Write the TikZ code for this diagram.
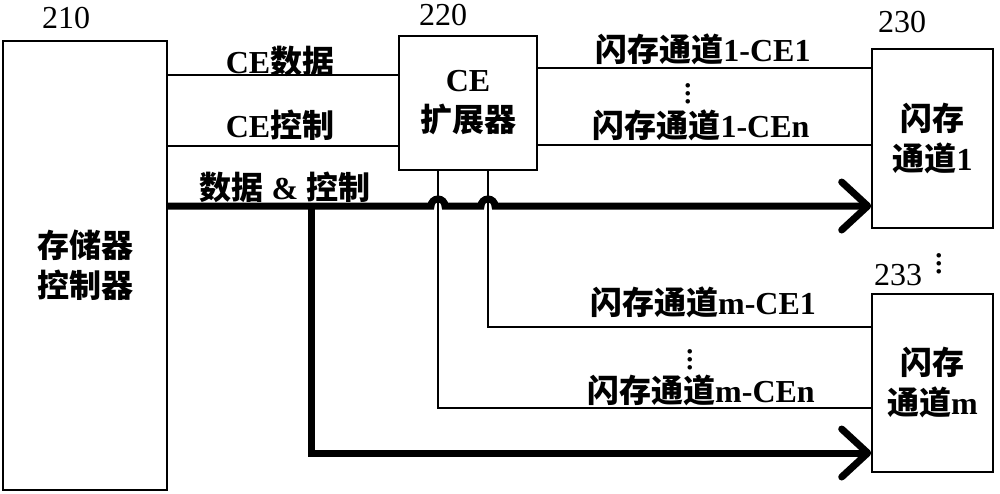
\documentclass[tikz,border=0pt]{standalone}
\usepackage{fontspec}
\setmainfont{Liberation Serif}
\newfontfamily\cjk{Noto Sans CJK SC}
\usetikzlibrary{arrows.meta,calc}
\begin{document}
\begin{tikzpicture}[x=0.5pt,y=-0.5pt,
    box/.style={draw=black,line width=0.8pt,inner sep=0pt,align=center,
        font=\fontsize{16}{20}\selectfont\bfseries},
    wire/.style={draw=black,line width=0.75pt},
    bus/.style={draw=black,line width=3.5pt},
    head/.style={-{Straight Barb[length=13pt,width=24pt,round]}},
    lab/.style={inner sep=0pt,font=\fontsize{16}{20}\selectfont\bfseries},
    num/.style={inner sep=0pt,font=\fontsize{16}{20}\selectfont},
    dots/.style={inner sep=0pt,font=\fontsize{19}{20}\selectfont}]
    \useasboundingbox (0,0) rectangle (1000,493);
    \node[box,minimum width=82pt,minimum height=224.5pt] (mc) at (85,265.5) {\cjk 存储器\\\cjk 控制器};
    \node[box,minimum width=69pt,minimum height=67pt] (ce) at (468,103) {CE\\\cjk 扩展器};
    \node[box,minimum width=60.5pt,minimum height=89.5pt] (fc1) at (932.5,138.5) {\cjk 闪存\\{\cjk 通道}1};
    \node[box,minimum width=60.5pt,minimum height=89pt] (fcm) at (932.5,383) {\cjk 闪存\\{\cjk 通道}m};
    \node[num] (n210) at (66,18) {210};
    \node[num] (n220) at (443,15) {220};
    \node[num] (n230) at (902,22) {230};
    \node[num] (n233) at (898,275) {233};
    \node[dots] (dm) at (939,258) {$\vdots$};
    \coordinate (cdat) at (167,75);
    \coordinate (cctl) at (167,146);
    \coordinate (bus) at (167,206);
    \coordinate (o1) at (537,68);
    \coordinate (o1n) at (537,145);
    \coordinate (ja) at (438,408);
    \coordinate (jb) at (488,327);
    \coordinate (bend) at (311,453);
    \draw[wire] (cdat) -- (cdat -| ce.west);
    \draw[wire] (cctl) -- (cctl -| ce.west);
    \draw[wire] (o1) -- (o1 -| fc1.west);
    \draw[wire] (o1n) -- (o1n -| fc1.west);
    \draw[wire] (ce.south -| ja) -- (ja) -- (ja -| fcm.west);
    \draw[wire] (ce.south -| jb) -- (jb) -- (jb -| fcm.west);
    \draw[bus,head] (bus) -- ($(bus -| ja)+(-7,0)$) arc[start angle=180,end angle=0,radius=3.5pt]
        -- ($(bus -| jb)+(-7,0)$) arc[start angle=180,end angle=0,radius=3.5pt] -- (bus -| fc1.west);
    \draw[bus,head] (bus -| bend) -- (bend) -- (bend -| fcm.west);
    \node[lab] (tdat) at (280,61) {CE{\cjk 数据}};
    \node[lab] (tctl) at (280,125) {CE{\cjk 控制}};
    \node[lab] (tbus) at (285,187) {{\cjk 数据} \& {\cjk 控制}};
    \node[lab] (t11) at (703,49) {{\cjk 闪存通道}1-CE1};
    \node[dots] (d1) at (688,88) {$\vdots$};
    \node[lab] (t1n) at (701,125) {{\cjk 闪存通道}1-CEn};
    \node[lab] (tm1) at (703,302) {{\cjk 闪存通道}m-CE1};
    \node[dots] (d2) at (690,354) {$\vdots$};
    \node[lab] (tmn) at (701,390) {{\cjk 闪存通道}m-CEn};
\end{tikzpicture}
\end{document}
